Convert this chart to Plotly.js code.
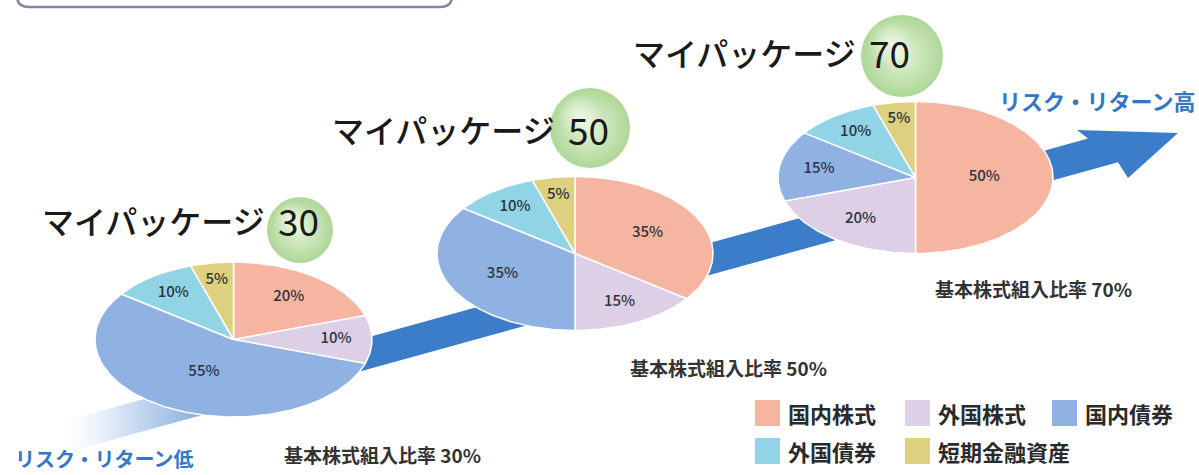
<!DOCTYPE html>
<html><head><meta charset="utf-8">
<script src="https://cdn.plot.ly/plotly-3.0.1.min.js"></script>
<style>html,body{margin:0;padding:0;background:#fff;overflow:hidden;} #chart{width:1199px;height:475px;}</style>
</head><body><div id="chart"></div>
<script>
// ---- data ----
const categories = ['国内株式', '外国株式', '国内債券', '外国債券', '短期金融資産'];
const packageName = 'マイパッケージ';
const packageNumbers = ['30', '50', '70'];
const alloc30 = [20, 10, 55, 10, 5];
const alloc50 = [35, 15, 35, 10, 5];
const alloc70 = [50, 20, 15, 10, 5];
const ratioLabel = '基本株式組入比率';
const riskLow = 'リスク・リターン低';
const riskHigh = 'リスク・リターン高';

// ---- styles / layout ----
const colors = ['#f6b5a1', '#dccfe6', '#90b2e3', '#90d4e6', '#ddd07e'];
const allocs = [alloc30, alloc50, alloc70];
const pieGeo = [
  {cx: 233.5, cy: 339.5, rx: 138.5, ry: 77.5},
  {cx: 575, cy: 253.5, rx: 138, ry: 77},
  {cx: 915.5, cy: 177.5, rx: 137.5, ry: 76}
];
const ballGeo = [{x: 300, y: 230, d: 66}, {x: 590, y: 128, d: 80}, {x: 902, y: 56, d: 82}];
const titleGeo = [{numLeft: 276, y: 220}, {numLeft: 566, y: 129}, {numLeft: 867, y: 52}];
const ratioGeo = [{x: 282, y: 454}, {x: 628, y: 367}, {x: 933, y: 288}];
const FONT = '"Noto Sans CJK JP", "Noto Sans", sans-serif';

const traces = [];

// arrow band (decoration)
const slope = 0.276;
const cyAt = x => 165 - (x - 1050) * slope;
const arrowX = [55, 1088, 1077, 1178, 1128, 1118, 55, 55];
const arrowY = [cyAt(55) - 16, cyAt(1088) - 16, 130, 133, 178, cyAt(1118) + 16, cyAt(55) + 16, cyAt(55) - 16];
traces.push({
  type: 'scatter', x: arrowX, y: arrowY, mode: 'lines', fill: 'toself',
  line: {width: 0, color: 'rgba(0,0,0,0)'},
  fillcolor: '#3b7dc8',
  fillgradient: {type: 'horizontal', colorscale: [[0, 'rgba(255,255,255,0)'], [0.04, 'rgba(235,240,250,1)'], [0.2, '#3b7dc8'], [1, '#3b7dc8']]},
  hoverinfo: 'skip', showlegend: false
});

// elliptical pies
allocs.forEach((vals, pi) => {
  const g = pieGeo[pi];
  const total = vals.reduce((a, b) => a + b, 0);
  let acc = 0;
  const lx = [], ly = [], lt = [];
  vals.forEach((v, si) => {
    const a0 = acc / total * 2 * Math.PI;
    const a1 = (acc + v) / total * 2 * Math.PI;
    const xs = [g.cx], ys = [g.cy];
    const n = Math.max(8, Math.ceil((a1 - a0) / (Math.PI / 180)));
    for (let k = 0; k <= n; k++) {
      const t = a0 + (a1 - a0) * k / n;
      xs.push(g.cx + g.rx * Math.sin(t));
      ys.push(g.cy - g.ry * Math.cos(t));
    }
    xs.push(g.cx); ys.push(g.cy);
    traces.push({
      type: 'scatter', x: xs, y: ys, mode: 'lines', fill: 'toself',
      fillcolor: colors[si], line: {color: '#ffffff', width: 1.5},
      hoverinfo: 'skip', showlegend: false
    });
    const p = v / total;
    const f = 0.8 - 0.6 * p;
    const am = (a0 + a1) / 2;
    lx.push(g.cx + g.rx * f * Math.sin(am));
    ly.push(g.cy - g.ry * f * Math.cos(am));
    lt.push(v + '%');
    acc += v;
  });
  traces.push({
    type: 'scatter', x: lx, y: ly, mode: 'text', text: lt,
    textfont: {family: FONT, size: 15, color: '#2e3340', weight: 500},
    hoverinfo: 'skip', showlegend: false
  });
});

// green balls
traces.push({
  type: 'scatter', mode: 'markers',
  x: ballGeo.map(b => b.x), y: ballGeo.map(b => b.y),
  marker: {size: ballGeo.map(b => b.d), color: '#8cc66c', line: {width: 0},
           gradient: {type: 'radial', color: '#d6edc4'}},
  hoverinfo: 'skip', showlegend: false
});
// highlight on balls (upper left)
traces.push({
  type: 'scatter', mode: 'markers',
  x: ballGeo.map(b => b.x - b.d * 0.14), y: ballGeo.map(b => b.y - b.d * 0.16),
  marker: {size: ballGeo.map(b => b.d * 0.55), color: 'rgba(255,255,255,0)', line: {width: 0},
           gradient: {type: 'radial', color: 'rgba(255,255,255,0.9)'}},
  hoverinfo: 'skip', showlegend: false
});

const annotations = [];
packageNumbers.forEach((num, i) => {
  const t = titleGeo[i];
  annotations.push({x: t.numLeft - 9, y: t.y, xref: 'x', yref: 'y', text: packageName, showarrow: false,
    xanchor: 'right', yanchor: 'middle', font: {family: FONT, size: 32, color: '#1a1a1a', weight: 500}});
  annotations.push({x: t.numLeft, y: t.y, xref: 'x', yref: 'y', text: num, showarrow: false,
    xanchor: 'left', yanchor: 'middle', font: {family: FONT, size: 37, color: '#1a1a1a'}});
  const r = ratioGeo[i];
  const stock = allocs[i][0] + allocs[i][1];
  annotations.push({x: r.x, y: r.y, xref: 'x', yref: 'y', text: ratioLabel + ' ' + stock + '%', showarrow: false,
    xanchor: 'left', yanchor: 'middle', font: {family: FONT, size: 19, color: '#333333', weight: 700}});
});
annotations.push({x: 1197, y: 100, xref: 'x', yref: 'y', text: riskHigh, showarrow: false,
  xanchor: 'right', yanchor: 'middle', font: {family: FONT, size: 22, color: '#3577c4', weight: 700}});
annotations.push({x: 13, y: 458, xref: 'x', yref: 'y', text: riskLow, showarrow: false,
  xanchor: 'left', yanchor: 'middle', font: {family: FONT, size: 20, color: '#3577c4', weight: 700}});

// custom legend
const legendPos = [[755, 413], [905, 413], [1052, 413], [755, 451], [905, 451]];
const shapes = [];
categories.forEach((c, i) => {
  const [lx0, ly0] = legendPos[i];
  shapes.push({type: 'rect', xref: 'x', yref: 'y', x0: lx0, x1: lx0 + 25, y0: ly0 - 13, y1: ly0 + 13,
    fillcolor: colors[i], line: {width: 0}});
  annotations.push({x: lx0 + 31, y: ly0, xref: 'x', yref: 'y', text: c, showarrow: false,
    xanchor: 'left', yanchor: 'middle', font: {family: FONT, size: 22, color: '#2a2a2a', weight: 700}});
});
// top box edge (cropped frame)
shapes.push({type: 'path', xref: 'x', yref: 'y', path: 'M 17,-10 L 17,-4 Q 17,7 29,7 L 440,7 Q 452,7 452,-4 L 452,-10',
  line: {color: '#8c7f9e', width: 2.5}});

const layout = {
  width: 1199, height: 475, margin: {l: 0, r: 0, t: 0, b: 0},
  paper_bgcolor: '#ffffff', plot_bgcolor: '#ffffff',
  xaxis: {range: [0, 1199], visible: false, fixedrange: true},
  yaxis: {range: [475, 0], visible: false, fixedrange: true},
  showlegend: false, annotations: annotations, shapes: shapes,
  font: {family: FONT}
};
Plotly.newPlot('chart', traces, layout, {displayModeBar: false, staticPlot: true});
</script></body></html>
